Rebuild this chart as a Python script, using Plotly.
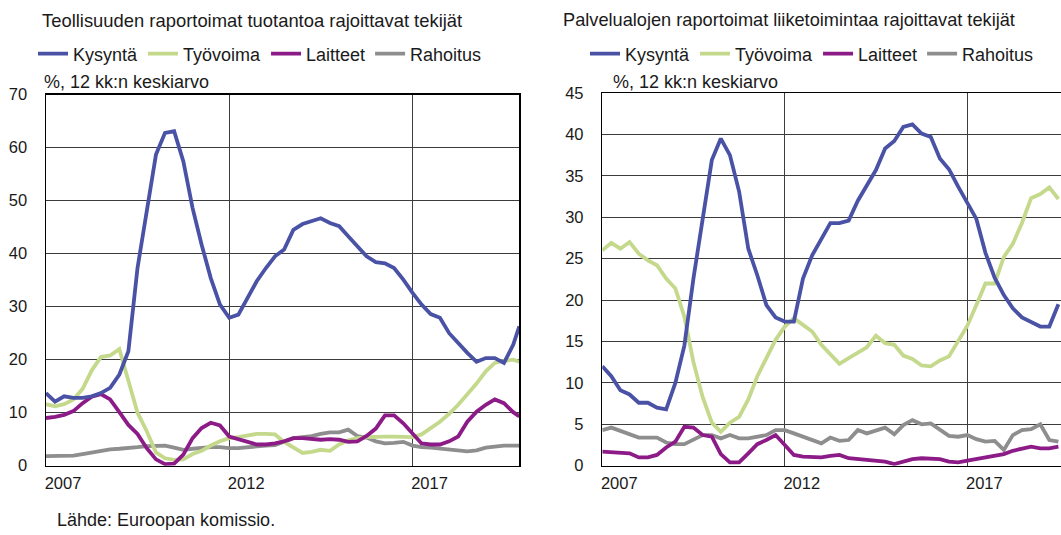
import pandas as pd
import plotly.graph_objects as go

# ---------------- data (quarterly readings of 12-month averages, %) ----------------
dates_left = list(pd.date_range("2007-01-01", "2019-10-01", freq="3MS").strftime("%Y-%m-%d")) + ["2019-12-01"]
dates_right = list(pd.date_range("2007-01-01", "2019-07-01", freq="3MS").strftime("%Y-%m-%d"))

series_names = ["Kysyntä", "Työvoima", "Laitteet", "Rahoitus"]

ind_kysynta = [13.7, 12.1, 13.1, 12.8, 12.8, 13.1, 13.7, 14.7, 17.2, 21.6,
               37.3, 48.0, 58.7, 62.8, 63.1, 57.4, 48.6, 41.7, 35.4, 30.4,
               27.9, 28.5, 31.6, 34.8, 37.3, 39.5, 40.8, 44.5, 45.6, 46.1,
               46.7, 45.8, 45.2, 43.3, 41.4, 39.5, 38.4, 38.2, 37.3, 35.1,
               32.6, 30.4, 28.6, 27.9, 25.0, 23.1, 21.3, 19.6, 20.3, 20.3,
               19.4, 22.8, 26.3]
ind_tyovoima = [11.6, 11.2, 11.6, 12.5, 14.5, 18.0, 20.5, 20.8, 22.0, 16.0,
                10.0, 6.5, 2.5, 1.4, 1.1, 1.2, 2.2, 2.8, 3.8, 4.6,
                5.2, 5.4, 5.7, 6.0, 6.0, 5.9, 4.5, 3.4, 2.4, 2.6,
                3.0, 2.8, 4.0, 4.8, 5.2, 5.4, 5.5, 5.5, 5.5, 5.5,
                5.4, 5.9, 7.0, 8.3, 9.8, 11.5, 13.5, 15.5, 17.8, 19.4,
                19.8, 20.0, 19.6]
ind_laitteet = [9.0, 9.2, 9.6, 10.3, 11.8, 13.0, 13.5, 12.5, 10.1, 7.7,
                6.0, 3.3, 1.2, 0.3, 0.4, 2.1, 5.2, 7.1, 8.1, 7.6,
                5.5, 5.0, 4.6, 4.0, 4.0, 4.2, 4.6, 5.2, 5.2, 5.1,
                4.9, 5.0, 4.9, 4.5, 4.6, 5.6, 7.0, 9.5, 9.5, 8.0,
                6.2, 4.2, 4.0, 4.0, 4.6, 5.5, 8.3, 10.2, 11.5, 12.5,
                11.8, 10.1, 9.3]
ind_rahoitus = [1.8, 1.8, 1.8, 1.9, 2.2, 2.5, 2.7, 3.1, 3.2, 3.3,
                3.5, 3.7, 3.8, 3.8, 3.4, 3.0, 3.2, 3.4, 3.5, 3.5,
                3.3, 3.3, 3.5, 3.6, 3.8, 3.9, 4.5, 5.2, 5.4, 5.6,
                6.0, 6.3, 6.3, 6.8, 5.6, 5.3, 4.6, 4.2, 4.3, 4.5,
                3.8, 3.5, 3.4, 3.2, 3.0, 2.9, 2.7, 2.9, 3.4, 3.6,
                3.8, 3.8, 3.8]

srv_kysynta = [12.0, 10.8, 9.1, 8.6, 7.6, 7.6, 7.0, 6.8, 10.0, 14.5,
               22.6, 30.0, 36.9, 39.5, 37.5, 33.1, 26.2, 23.0, 19.4, 17.9,
               17.4, 17.4, 22.6, 25.4, 27.4, 29.3, 29.3, 29.6, 32.0, 33.9,
               35.7, 38.3, 39.2, 40.9, 41.2, 40.1, 39.7, 37.1, 35.8, 33.7,
               31.8, 29.8, 25.7, 22.7, 20.6, 19.0, 17.9, 17.4, 16.8, 16.8,
               19.5]
srv_tyovoima = [26.0, 26.9, 26.2, 27.0, 25.6, 24.8, 24.2, 22.6, 21.4, 18.0,
                12.5, 8.3, 5.2, 4.1, 5.2, 5.9, 8.0, 10.8, 13.0, 15.2,
                16.8, 17.8, 17.0, 16.2, 14.6, 13.4, 12.3, 13.0, 13.6, 14.3,
                15.7, 14.8, 14.6, 13.3, 12.9, 12.1, 12.0, 12.7, 13.2, 15.0,
                16.9, 19.4, 22.0, 22.0, 25.2, 26.8, 29.3, 32.3, 32.8, 33.6,
                32.2]
srv_laitteet = [1.7, 1.6, 1.5, 1.5, 1.0, 1.0, 1.3, 2.2, 2.9, 4.7,
                4.6, 3.7, 3.5, 1.4, 0.4, 0.4, 1.5, 2.6, 3.1, 3.7,
                2.5, 1.3, 1.1, 1.0, 1.0, 1.2, 1.3, 0.9, 0.8, 0.7,
                0.6, 0.5, 0.2, 0.5, 0.8, 0.9, 0.9, 0.8, 0.5, 0.4,
                0.6, 0.8, 1.0, 1.1, 1.4, 1.8, 2.1, 2.3, 2.1, 2.1,
                2.3]
srv_rahoitus = [4.3, 4.6, 4.2, 3.8, 3.4, 3.4, 3.4, 2.8, 2.6, 2.6,
                3.1, 3.7, 3.7, 3.3, 3.7, 3.3, 3.3, 3.5, 3.7, 4.3,
                4.3, 3.9, 3.5, 3.1, 2.7, 3.4, 3.0, 3.1, 4.3, 3.9,
                4.3, 4.6, 3.8, 4.9, 5.5, 5.0, 5.1, 4.3, 3.6, 3.5,
                3.7, 3.2, 2.9, 3.0, 1.9, 3.7, 4.3, 4.4, 5.0, 3.1,
                2.9]

x_tick_vals = ["2007-01-01", "2012-01-01", "2017-01-01"]
x_tick_text = ["2007", "2012", "2017"]
left_y_ticks = [0, 10, 20, 30, 40, 50, 60, 70]
right_y_ticks = [0, 5, 10, 15, 20, 25, 30, 35, 40, 45]

title_left = "Teollisuuden raportoimat tuotantoa rajoittavat tekijät"
title_right = "Palvelualojen raportoimat liiketoimintaa rajoittavat tekijät"
unit_label = "%, 12 kk:n keskiarvo"
source_text = "Lähde: Euroopan komissio."

# ---------------- styling ----------------
colors = ["#4A52A6", "#C4D98C", "#8C1B88", "#8E8E8E"]
FONT = "Liberation Sans, Arial, sans-serif"
W, H = 1061, 535

fig = go.Figure()

left_series = [ind_kysynta, ind_tyovoima, ind_laitteet, ind_rahoitus]
right_series = [srv_kysynta, srv_tyovoima, srv_laitteet, srv_rahoitus]

# draw order: gray at back, then others
order = [3, 1, 2, 0]
for k in order:
    fig.add_trace(go.Scatter(x=dates_left, y=left_series[k], mode="lines",
                             name=series_names[k], line=dict(color=colors[k], width=3.8),
                             xaxis="x", yaxis="y", legend="legend", legendrank=k))
for k in order:
    fig.add_trace(go.Scatter(x=dates_right, y=right_series[k], mode="lines",
                             name=series_names[k], line=dict(color=colors[k], width=3.8),
                             xaxis="x2", yaxis="y2", legend="legend2", legendrank=k))

grid = "#3c3c3c"
common_x = dict(type="date", tickvals=x_tick_vals, ticktext=x_tick_text,
                showgrid=True, gridcolor=grid, gridwidth=1, zeroline=False,
                showline=True, linecolor="black", linewidth=1.5, mirror=True,
                ticks="", ticklabelshift=17, ticklabelstandoff=2, automargin=False,
                tickfont=dict(family=FONT, size=16.5, color="#1a1a1a"))
common_y = dict(showgrid=True, gridcolor=grid, gridwidth=1, zeroline=False,
                showline=True, linecolor="black", linewidth=1.5,
                ticks="", ticklabelstandoff=14, automargin=False,
                tickfont=dict(family=FONT, size=16.5, color="#1a1a1a"))

fig.update_layout(
    template="none",
    width=W, height=H,
    margin=dict(l=0, r=0, t=0, b=0, pad=0, autoexpand=False),
    paper_bgcolor="white", plot_bgcolor="white",
    font=dict(family=FONT, size=18, color="#1a1a1a"),
    xaxis=dict(common_x, domain=[46 / W, 519.3 / W],
               range=["2007-01-01", "2019-12-01"], anchor="y"),
    yaxis=dict(common_y, domain=[(H - 465.7) / H, (H - 94.7) / H],
               range=[0, 70], tickvals=left_y_ticks, mirror=True, anchor="x"),
    xaxis2=dict(common_x, domain=[602.3 / W, 1.0],
                range=["2007-01-01", "2019-07-27"], anchor="y2"),
    yaxis2=dict(common_y, domain=[(H - 465.7) / H, (H - 93) / H],
                range=[0, 45], tickvals=right_y_ticks, mirror=False, anchor="x2"),
    legend=dict(orientation="h", x=33 / W, y=1 - 54 / H, xanchor="left", yanchor="middle",
                font=dict(family=FONT, size=18, color="#1a1a1a"),
                bgcolor="rgba(0,0,0,0)", itemwidth=30, tracegroupgap=0),
    legend2=dict(orientation="h", x=585 / W, y=1 - 54 / H, xanchor="left", yanchor="middle",
                 font=dict(family=FONT, size=18, color="#1a1a1a"),
                 bgcolor="rgba(0,0,0,0)", itemwidth=30, tracegroupgap=0),
    showlegend=True,
)

def note(text, px, py, size=18):
    fig.add_annotation(text=text, x=px / W, y=1 - py / H, xref="paper", yref="paper",
                       xanchor="left", yanchor="middle", showarrow=False,
                       font=dict(family=FONT, size=size, color="#1a1a1a"))

note(title_left, 40, 20, 18.4)
note(title_right, 561, 20, 18.2)
note(unit_label, 42, 82, 18)
note(unit_label, 611, 82, 18)
note(source_text, 55, 520)

fig.write_html("out.html",
               config={"displayModeBar": False, "staticPlot": True},
               post_script="document.body.style.margin='0px';document.body.style.overflow='hidden';")
